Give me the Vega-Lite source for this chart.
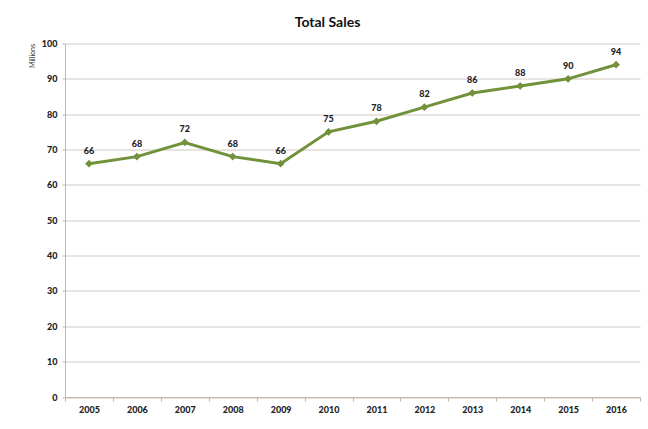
{
  "$schema": "https://vega.github.io/schema/vega-lite/v6.json",
  "width": 575,
  "height": 353.5,
  "autosize": {"type": "none"},
  "padding": {"left": 65, "top": 43.5, "right": 8, "bottom": 32},
  "background": "white",
  "title": {
    "text": "Total Sales",
    "font": "Lato",
    "fontSize": 14,
    "fontWeight": "bold",
    "color": "#111111",
    "anchor": "middle",
    "dx": -25,
    "offset": 10
  },
  "data": {
    "values": [
      {"year": "2005", "sales": 66},
      {"year": "2006", "sales": 68},
      {"year": "2007", "sales": 72},
      {"year": "2008", "sales": 68},
      {"year": "2009", "sales": 66},
      {"year": "2010", "sales": 75},
      {"year": "2011", "sales": 78},
      {"year": "2012", "sales": 82},
      {"year": "2013", "sales": 86},
      {"year": "2014", "sales": 88},
      {"year": "2015", "sales": 90},
      {"year": "2016", "sales": 94}
    ]
  },
  "encoding": {
    "x": {
      "field": "year",
      "type": "ordinal",
      "scale": {"type": "band", "paddingInner": 0, "paddingOuter": 0},
      "axis": {
        "title": null,
        "labelAngle": 0,
        "labelFont": "Lato",
        "labelFontSize": 9,
        "labelFontWeight": 900,
        "labelColor": "#222222",
        "labelPadding": 4,
        "tickBand": "extent",
        "tickSize": 4,
        "tickColor": "#c0b6ae",
        "domainColor": "#c0b6ae",
        "grid": false
      }
    },
    "y": {
      "field": "sales",
      "type": "quantitative",
      "scale": {"domain": [0, 100]},
      "axis": {
        "title": "Millions",
        "titleFont": "Lato",
        "titleFontSize": 7,
        "titleFontWeight": "normal",
        "titleColor": "#333333",
        "titleAnchor": "end",
        "titlePadding": 6,
        "values": [0, 10, 20, 30, 40, 50, 60, 70, 80, 90, 100],
        "labelFont": "Lato",
        "labelFontSize": 9,
        "labelFontWeight": 900,
        "labelColor": "#222222",
        "labelPadding": 5,
        "tickSize": 3,
        "tickColor": "#c0b6ae",
        "domainColor": "#c0b6ae",
        "gridColor": "#d2c8c0",
        "gridWidth": 1
      }
    }
  },
  "layer": [
    {
      "mark": {
        "type": "line",
        "color": "#71913a",
        "strokeWidth": 3,
        "point": {"shape": "diamond", "size": 60, "filled": true, "color": "#71913a"}
      }
    },
    {
      "mark": {
        "type": "text",
        "dy": -13,
        "font": "Lato",
        "fontSize": 9,
        "fontWeight": 900,
        "color": "#222222"
      },
      "encoding": {"text": {"field": "sales", "type": "quantitative"}}
    }
  ],
  "config": {"view": {"stroke": null}}
}
